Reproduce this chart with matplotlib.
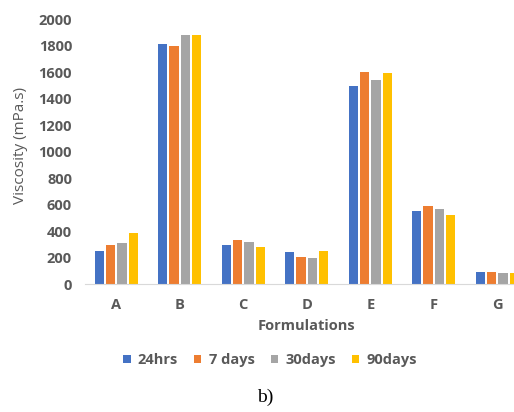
import matplotlib.pyplot as plt
import numpy as np

formulations = ['A', 'B', 'C', 'D', 'E', 'F', 'G']
series_names = ['24hrs', '7 days', '30days', '90days']
visc_24hrs = [248, 1812, 293, 245, 1500, 550, 95]
visc_7days = [295, 1800, 335, 208, 1600, 592, 90]
visc_30days = [315, 1885, 322, 195, 1545, 572, 82]
visc_90days = [388, 1880, 280, 252, 1592, 522, 82]
colors = ['#4472C4', '#ED7D31', '#A5A5A5', '#FFC000']

plt.rcParams['font.family'] = ['Open Sans', 'DejaVu Sans']
text_col = '#595959'
fsize = 10.5

fig = plt.figure(figsize=(5.14, 4.12), dpi=100)
ax = fig.add_axes([84.5/514, 0.31, 444.5/514, 0.643])

x = np.arange(len(formulations))
step = 0.178
width = 0.148
all_vals = [visc_24hrs, visc_7days, visc_30days, visc_90days]
for i, vals in enumerate(all_vals):
    ax.bar(x + (i - 1.5)*step, vals, width, color=colors[i], label=series_names[i])

ax.set_xlim(-0.5, len(formulations) - 0.5)
ax.set_ylim(0, 2000)
ax.set_yticks(np.arange(0, 2001, 200))
ax.set_xticks(x)
ax.set_xticklabels(formulations)
for s in ['top', 'right', 'left']:
    ax.spines[s].set_visible(False)
ax.spines['bottom'].set_color('#d9d9d9')
ax.tick_params(axis='both', length=0, colors=text_col, labelsize=fsize)
ax.tick_params(axis='x', pad=10)
ax.tick_params(axis='y', pad=9)
for lab in ax.get_xticklabels() + ax.get_yticklabels():
    lab.set_fontweight('bold')

fig.text(306/514, 1 - 326/412, 'Formulations', color=text_col, fontsize=fsize,
         fontweight='bold', ha='center', va='center')
fig.text(21/514, 1 - 146/412, 'Viscosity (mPa.s)', color=text_col, fontsize=11,
         rotation=90, ha='center', va='center')

leg = fig.legend(loc='center', bbox_to_anchor=(270/514, 1 - 360/412), ncol=4,
                 frameon=False, fontsize=fsize, handlelength=0.5, handleheight=0.5,
                 handletextpad=0.5, columnspacing=1.1)
for t in leg.get_texts():
    t.set_color(text_col)
    t.set_fontweight('bold')

fig.text(265/514, 1 - 397/412, 'b)', fontsize=14, family='Liberation Serif',
         ha='center', va='center', color='black')

plt.savefig('out.png', dpi=100)
